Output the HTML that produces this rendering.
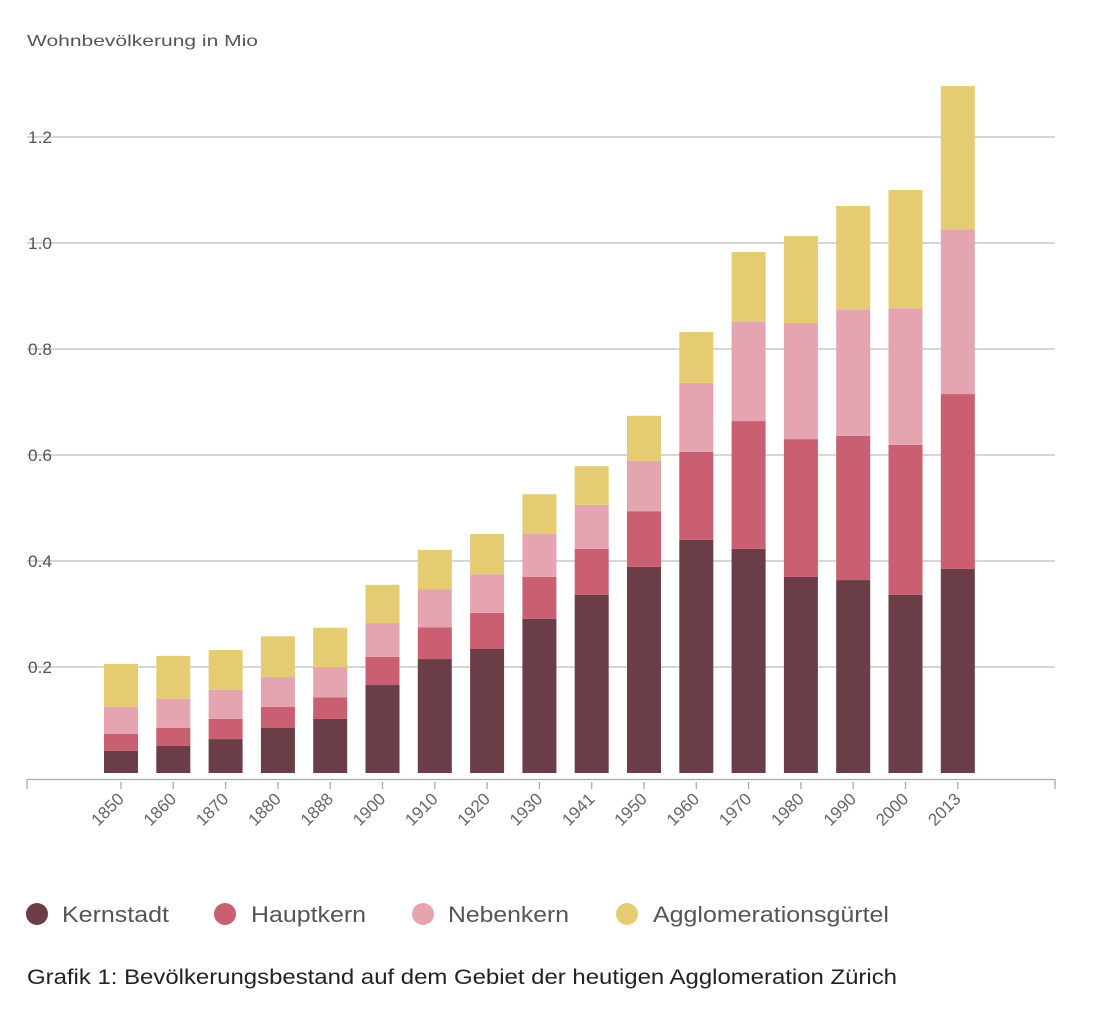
<!DOCTYPE html>
<html><head><meta charset="utf-8"><style>
body{margin:0;background:#fff;font-family:"Liberation Sans",sans-serif;}
svg{display:block}
</style></head><body>
<svg id="chart" width="1094" height="1018">
<text x="27" y="46" font-size="16" fill="#555" textLength="231" lengthAdjust="spacingAndGlyphs">Wohnbevölkerung in Mio</text>
<g id="grid"></g><g id="bars"></g><g id="xaxis"></g>
<g>
<g><circle cx="37" cy="914" r="11" fill="#6b3d47"/><text x="62" y="922" font-size="22" fill="#555" textLength="107" lengthAdjust="spacingAndGlyphs">Kernstadt</text></g>
<g><circle cx="225" cy="914" r="11" fill="#c95f70"/><text x="251" y="922" font-size="22" fill="#555" textLength="115" lengthAdjust="spacingAndGlyphs">Hauptkern</text></g>
<g><circle cx="423" cy="914" r="11" fill="#e5a5b0"/><text x="448" y="922" font-size="22" fill="#555" textLength="121" lengthAdjust="spacingAndGlyphs">Nebenkern</text></g>
<g><circle cx="627" cy="914" r="11" fill="#e5cc72"/><text x="653" y="922" font-size="22" fill="#555" textLength="236" lengthAdjust="spacingAndGlyphs">Agglomerationsgürtel</text></g>
</g>
<text x="27" y="984" font-size="21" fill="#222" textLength="870" lengthAdjust="spacingAndGlyphs">Grafik 1: Bevölkerungsbestand auf dem Gebiet der heutigen Agglomeration Zürich</text>
</svg>
<script>
const categories=["1850","1860","1870","1880","1888","1900","1910","1920","1930","1941","1950","1960","1970","1980","1990","2000","2013"];
const kernstadt=[.042,.051,.064,.085,.102,.166,.215,.234,.291,.336,.389,.44,.423,.37,.364,.336,.385];
const hauptkern=[.032,.034,.038,.04,.041,.053,.06,.068,.079,.087,.105,.166,.241,.26,.272,.283,.33];
const nebenkern=[.051,.055,.055,.056,.057,.064,.072,.073,.081,.083,.095,.13,.187,.219,.239,.258,.311];
const agglo=[.081,.081,.075,.077,.074,.072,.074,.076,.075,.073,.085,.096,.132,.164,.195,.223,.27];
const yTicks=[0.2,0.4,0.6,0.8,1.0,1.2];
const yTickLabels=["0.2","0.4","0.6","0.8","1.0","1.2"];
const NS="http://www.w3.org/2000/svg";
const y=v=>773-v*530;
const x=i=>121+i*52.3;
function mk(t,a,p){const e=document.createElementNS(NS,t);for(const k in a)e.setAttribute(k,a[k]);p.appendChild(e);return e;}
const grid=document.getElementById('grid');
yTicks.forEach((v,i)=>{
 const l=mk('line',{x1:27,x2:1055,y1:y(v),y2:y(v),stroke:'#bdbdbd','stroke-width':1.3},grid);
 
 
 const t=mk('text',{x:28,y:y(v)+6,'font-size':17,fill:'#555',textLength:24,lengthAdjust:'spacingAndGlyphs'},grid);
 t.textContent=yTickLabels[i];
 
 
});
const xa=document.getElementById('xaxis');
const base=mk('line',{x1:27,x2:1055,y1:779.5,y2:779.5,stroke:'#aaa','stroke-width':1.3},xa);


[27,1055].forEach(px=>mk('line',{x1:px,x2:px,y1:779,y2:789,stroke:'#aaa','stroke-width':1.3},xa));
const bars=document.getElementById('bars');
const series=[[kernstadt,'#6b3d47','kernstadt'],[hauptkern,'#c95f70','hauptkern'],[nebenkern,'#e5a5b0','nebenkern'],[agglo,'#e5cc72','agglomeration']];
categories.forEach((c,i)=>{
 let cum=0;
 series.forEach(([arr,col,nm])=>{
  const v=arr[i];
  const r=mk('rect',{x:x(i)-17,y:y(cum+v),width:34,height:y(cum)-y(cum+v),fill:col},bars);
  
  
  cum+=v;
 });
 mk('line',{x1:x(i),x2:x(i),y1:782,y2:789,stroke:'#aaa','stroke-width':1.3},xa);
 const t=mk('text',{x:x(i)+4,y:800,'font-size':17,fill:'#666','text-anchor':'end',transform:`rotate(-45 ${x(i)+4} 800)`},xa);
 t.textContent=c;
 
 
});
</script>
</body></html>
